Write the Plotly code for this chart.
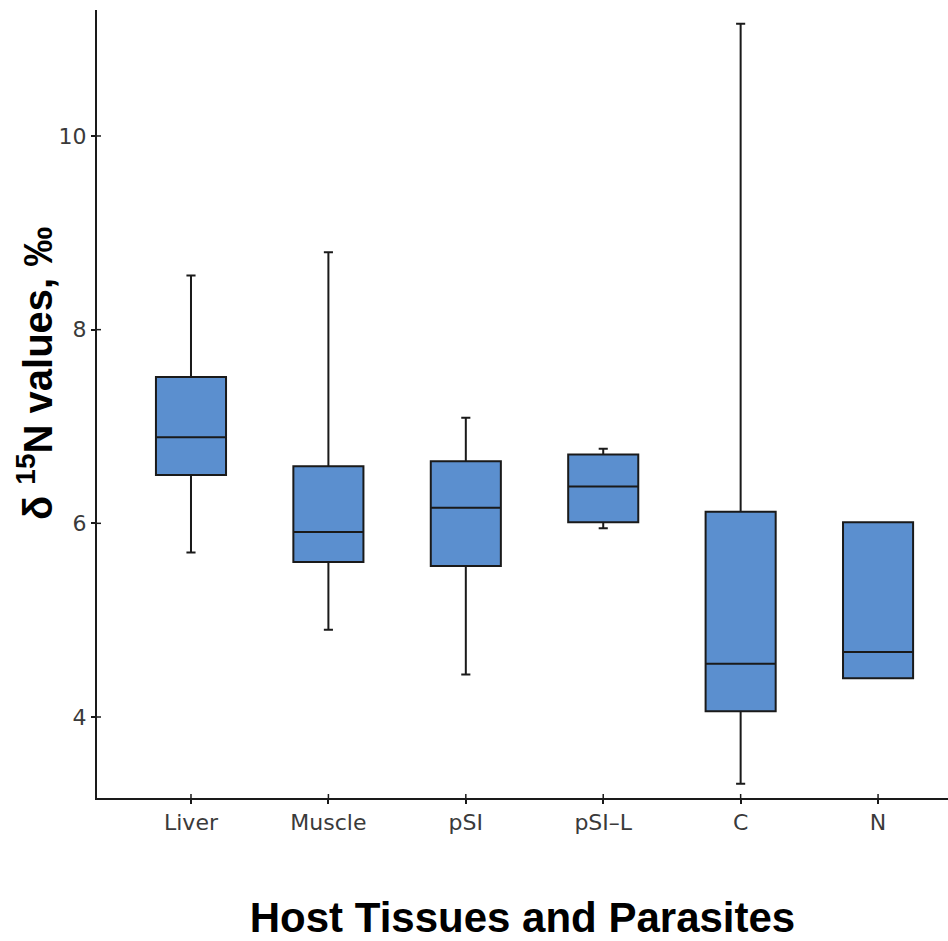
import plotly.graph_objects as go

# Box-plot summaries of δ15N (‰) for host tissues and parasites
categories = ["Liver", "Muscle", "pSI", "pSI\u2013L", "C", "N"]
lower_whisker = [5.70, 4.90, 4.44, 5.95, 3.31, 4.40]
q1 = [6.50, 5.60, 5.56, 6.01, 4.06, 4.40]
median = [6.89, 5.91, 6.16, 6.38, 4.55, 4.67]
q3 = [7.51, 6.59, 6.64, 6.71, 6.12, 6.01]
upper_whisker = [8.56, 8.80, 7.09, 6.77, 11.16, 6.01]

y_ticks = [4, 6, 8, 10]

fill_color = "#5B8FCF"
line_color = "#1a1a1a"

fig = go.Figure()
fig.add_trace(go.Box(
    x=categories,
    q1=q1,
    median=median,
    q3=q3,
    lowerfence=lower_whisker,
    upperfence=upper_whisker,
    width=0.51,
    whiskerwidth=0.13,
    fillcolor=fill_color,
    line=dict(color=line_color, width=2),
    boxpoints=False,
    showlegend=False,
    hoverinfo="skip",
))

# Tick marks that cross the axis lines (inner half drawn as pixel-sized shapes)
shapes = []
for v in y_ticks:
    shapes.append(dict(type="line", xref="paper", xsizemode="pixel", xanchor=0,
                       x0=0, x1=4, yref="y", y0=v, y1=v,
                       line=dict(color=line_color, width=1.5)))
for c in categories:
    shapes.append(dict(type="line", xref="x", x0=c, x1=c, yref="paper",
                       ysizemode="pixel", yanchor=0, y0=0, y1=4,
                       line=dict(color=line_color, width=1.5)))

tick_font = dict(family="DejaVu Sans", size=22, color="#3a3a3a")

fig.update_layout(
    width=948,
    height=941,
    margin=dict(l=97, r=0, t=10, b=143),
    paper_bgcolor="white",
    plot_bgcolor="white",
    shapes=shapes,
    xaxis=dict(
        type="category",
        range=[-0.684, 5.509],
        showline=True,
        linecolor=line_color,
        linewidth=2,
        ticks="outside",
        ticklen=4,
        tickwidth=1.5,
        tickcolor=line_color,
        tickfont=tick_font,
        showgrid=False,
        zeroline=False,
        title=dict(text="<b>Host Tissues and Parasites</b>",
                   font=dict(family="Liberation Sans", size=42, color="#000000"),
                   standoff=68),
    ),
    yaxis=dict(
        range=[3.1635, 11.301],
        tickvals=y_ticks,
        ticktext=[str(v) for v in y_ticks],
        showline=True,
        linecolor=line_color,
        linewidth=2,
        ticks="outside",
        ticklen=4,
        tickwidth=1.5,
        tickcolor=line_color,
        tickfont=tick_font,
        showgrid=False,
        zeroline=False,
    ),
    annotations=[dict(
        text="<b>\u03b4 <sup>15</sup>N values, \u2030</b>",
        font=dict(family="Liberation Sans", size=40, color="#000000"),
        textangle=-90,
        xref="paper", x=0, xanchor="center", xshift=-62,
        yref="paper", y=0.5, yanchor="middle", yshift=30,
        showarrow=False,
    )],
)

fig.write_html("out.html")
